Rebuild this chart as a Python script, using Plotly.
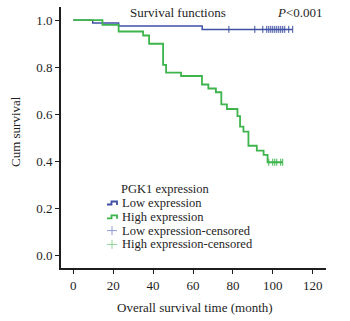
import plotly.graph_objects as go

# Kaplan-Meier step data (time in months, cumulative survival)
low_times = [0, 9.7, 22.7, 64.6, 110]
low_surv = [1.0, 0.988, 0.975, 0.961, 0.961]
high_times = [0, 14.6, 22.7, 35, 38, 45, 46.5, 54, 64.5, 67.7, 71.5, 74.2, 77,
              82.3, 83.6, 85.3, 87.8, 92, 95.4, 97.4, 105]
high_surv = [1.0, 0.98, 0.952, 0.935, 0.90, 0.81, 0.777, 0.763, 0.727, 0.71, 0.694,
             0.643, 0.623, 0.593, 0.548, 0.527, 0.467, 0.446, 0.428, 0.397, 0.397]

# censored observations
low_censored = [78, 91, 95, 97, 98, 99, 100, 101, 102, 103, 104, 105, 106, 108, 110]
high_censored = [98, 100, 101, 102, 104, 105]

x_ticks = [0, 20, 40, 60, 80, 100, 120]
y_ticks = [0.0, 0.2, 0.4, 0.6, 0.8, 1.0]
legend_title = "PGK1 expression"
legend_names = ["Low expression", "High expression",
                "Low expression-censored", "High expression-censored"]

BLUE = "#3f50a4"
GREEN = "#3db44c"
BLUE_LIGHT = "#8c9ad4"
GREEN_LIGHT = "#8fd49a"
FONT = "Liberation Serif, Times New Roman, serif"
INK = "#1e1e1e"


def surv_at(times, surv, t):
    val = surv[0]
    for ti, si in zip(times, surv):
        if ti <= t:
            val = si
    return val


W, H = 350, 321
ML, MR, MT, MB = 61, 24, 7, 53
PW, PH = W - ML - MR, H - MT - MB


def px(x):
    return (x - ML) / PW


def py(y):
    return (H - MB - y) / PH


fig = go.Figure()
fig.add_trace(go.Scatter(x=low_times, y=low_surv, mode="lines", line_shape="hv",
                         line=dict(color=BLUE, width=1.5), hoverinfo="skip"))
fig.add_trace(go.Scatter(x=high_times, y=high_surv, mode="lines", line_shape="hv",
                         line=dict(color=GREEN, width=1.8), hoverinfo="skip"))
fig.add_trace(go.Scatter(x=low_censored,
                         y=[surv_at(low_times, low_surv, t) for t in low_censored],
                         mode="markers",
                         marker=dict(symbol="line-ns", size=5,
                                     line=dict(color=BLUE, width=1)),
                         hoverinfo="skip"))
fig.add_trace(go.Scatter(x=high_censored,
                         y=[surv_at(high_times, high_surv, t) for t in high_censored],
                         mode="markers",
                         marker=dict(symbol="line-ns", size=5,
                                     line=dict(color=GREEN, width=1)),
                         hoverinfo="skip"))

annotations = [
    dict(text="Survival functions", x=px(178), y=py(13), xref="paper", yref="paper",
         showarrow=False, xanchor="center", yanchor="middle",
         font=dict(family=FONT, size=13, color=INK)),
    dict(text="<i>P</i>&lt;0.001", x=px(300), y=py(13), xref="paper", yref="paper",
         showarrow=False, xanchor="center", yanchor="middle",
         font=dict(family=FONT, size=13, color=INK)),
    dict(text="Cum survival", x=px(15), y=py(132), xref="paper", yref="paper",
         showarrow=False, textangle=-90, xanchor="center", yanchor="middle",
         font=dict(family=FONT, size=13, color=INK)),
    dict(text="Overall survival time (month)", x=px(195), y=py(307), xref="paper",
         yref="paper", showarrow=False, xanchor="center", yanchor="middle",
         font=dict(family=FONT, size=13, color=INK)),
    dict(text=legend_title, x=px(119), y=py(189), xref="paper", yref="paper",
         showarrow=False, xanchor="left", yanchor="middle",
         font=dict(family=FONT, size=12.5, color=INK)),
]

row_y = [203, 216.8, 230.6, 244.4]
for name, ry in zip(legend_names, row_y):
    annotations.append(dict(text=name, x=px(120), y=py(ry), xref="paper", yref="paper",
                            showarrow=False, xanchor="left", yanchor="middle",
                            font=dict(family=FONT, size=12.5, color=INK)))

shapes = []
# step-shaped icons for the survival lines
for color, ry in [(BLUE, row_y[0]), (GREEN, row_y[1])]:
    x0, x1, x2 = 107, 111.5, 117
    ylo, yhi = ry + 1.5, ry - 1.5
    path = (f"M {px(x0)},{py(ylo)} L {px(x1)},{py(ylo)} L {px(x1)},{py(yhi)} "
            f"L {px(x2)},{py(yhi)} L {px(x2)},{py(ylo + 0.5)}")
    shapes.append(dict(type="path", path=path, xref="paper", yref="paper",
                       line=dict(color=color, width=1.8)))
# cross icons for censored marks
for color, ry in [(BLUE_LIGHT, row_y[2]), (GREEN_LIGHT, row_y[3])]:
    cx = 112
    shapes.append(dict(type="line", xref="paper", yref="paper",
                       x0=px(cx - 5), x1=px(cx + 5), y0=py(ry), y1=py(ry),
                       line=dict(color=color, width=1)))
    shapes.append(dict(type="line", xref="paper", yref="paper",
                       x0=px(cx), x1=px(cx), y0=py(ry - 4.5), y1=py(ry + 4.5),
                       line=dict(color=color, width=1)))

fig.update_layout(
    width=W, height=H,
    margin=dict(l=ML, r=MR, t=MT, b=MB),
    paper_bgcolor="white", plot_bgcolor="white",
    showlegend=False,
    font=dict(family=FONT, size=13, color=INK),
    annotations=annotations,
    shapes=shapes,
    xaxis=dict(range=[-6.2, 126.7], tickvals=x_ticks, ticktext=[str(v) for v in x_ticks],
               showline=True, linecolor=INK, linewidth=2, ticks="outside", ticklen=4,
               tickwidth=1, tickcolor=INK, showgrid=False, zeroline=False,
               fixedrange=True),
    yaxis=dict(range=[-0.052, 1.056], tickvals=y_ticks,
               ticktext=[f"{v:.1f}" for v in y_ticks],
               showline=True, linecolor=INK, linewidth=2, ticks="outside", ticklen=4,
               tickwidth=1, tickcolor=INK, showgrid=False, zeroline=False,
               fixedrange=True),
)

fig.write_html("out.html", config={"displayModeBar": False})
